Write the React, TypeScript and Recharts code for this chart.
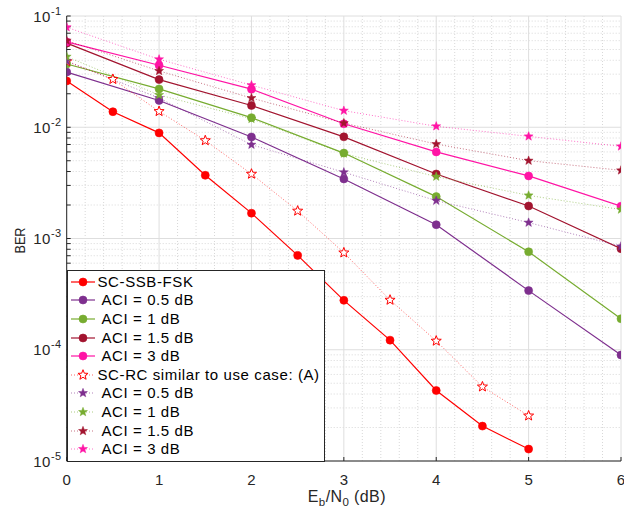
import React from 'react';
import { LineChart, Line, XAxis, YAxis, CartesianGrid, Legend } from 'recharts';

// Eb/N0 grid (dB)
const ebn0Half = [0, 0.5, 1, 1.5, 2, 2.5, 3, 3.5, 4, 4.5, 5];
const ebn0Int = [0, 1, 2, 3, 4, 5, 6];

// SC-SSB-FSK curves (circles, solid)
const berScSsbFsk = [0.0261, 0.0138, 0.0089, 0.0037, 0.00169, 0.000705, 0.000278, 0.000122, 4.3e-5, 2.06e-5, 1.28e-5];
const berSsbAci05 = [0.0313, 0.0174, 0.00817, 0.00343, 0.00133, 0.00034, 8.97e-5];
const berSsbAci1 = [0.037, 0.0221, 0.0122, 0.00586, 0.00238, 0.00076, 0.00019];
const berSsbAci15 = [0.057, 0.0268, 0.0157, 0.0082, 0.0038, 0.00196, 0.00081];
const berSsbAci3 = [0.0585, 0.0361, 0.022, 0.01075, 0.006, 0.00365, 0.00195];

// SC-RC curves (stars, dotted)
const berScRc = [0.039, 0.027, 0.0139, 0.0076, 0.0038, 0.00177, 0.000745, 0.00028, 0.00012, 4.65e-5, 2.55e-5];
const berRcAci05 = [0.0394, 0.0183, 0.00697, 0.00394, 0.00219, 0.00139, 0.00085];
const berRcAci1 = [0.0431, 0.0195, 0.0119, 0.0058, 0.0036, 0.00244, 0.00182];
const berRcAci15 = [0.0601, 0.0321, 0.0183, 0.0109, 0.00706, 0.00501, 0.0041];
const berRcAci3 = [0.0792, 0.0408, 0.0239, 0.0141, 0.0102, 0.00828, 0.00673];

const xTicks = [0, 1, 2, 3, 4, 5, 6];
const yMajor = [1e-5, 1e-4, 1e-3, 1e-2, 1e-1];
const yMinor = [-5, -4, -3, -2].flatMap((e) => [2, 3, 4, 5, 6, 7, 8, 9].map((k) => k * Math.pow(10, e)));
const xMinor = Array.from({ length: 31 }, (_, i) => +(i * 0.2).toFixed(1)).filter((v) => v % 1 !== 0);

const RED = '#ff0000';
const PURPLE = '#7e2f8e';
const GREEN = '#77ac30';
const DARKRED = '#a2142f';
const PINK = '#ff14a5';
const AXIS = '#262626';
const FONT = '"Liberation Sans", Arial, Helvetica, sans-serif';

type Marker = 'circle' | 'star' | 'openStar';
interface Series {
  name: string;
  xs: number[];
  ys: number[];
  color: string;
  marker: Marker;
  dotted: boolean;
}

const series: Series[] = [
  { name: 'SC-SSB-FSK', xs: ebn0Half, ys: berScSsbFsk, color: RED, marker: 'circle', dotted: false },
  { name: ' ACI = 0.5 dB', xs: ebn0Int, ys: berSsbAci05, color: PURPLE, marker: 'circle', dotted: false },
  { name: ' ACI = 1 dB', xs: ebn0Int, ys: berSsbAci1, color: GREEN, marker: 'circle', dotted: false },
  { name: ' ACI = 1.5 dB', xs: ebn0Int, ys: berSsbAci15, color: DARKRED, marker: 'circle', dotted: false },
  { name: ' ACI = 3 dB', xs: ebn0Int, ys: berSsbAci3, color: PINK, marker: 'circle', dotted: false },
  { name: 'SC-RC similar to use case: (A)', xs: ebn0Half, ys: berScRc, color: RED, marker: 'openStar', dotted: true },
  { name: ' ACI = 0.5 dB', xs: ebn0Int, ys: berRcAci05, color: PURPLE, marker: 'star', dotted: true },
  { name: ' ACI = 1 dB', xs: ebn0Int, ys: berRcAci1, color: GREEN, marker: 'star', dotted: true },
  { name: ' ACI = 1.5 dB', xs: ebn0Int, ys: berRcAci15, color: DARKRED, marker: 'star', dotted: true },
  { name: ' ACI = 3 dB', xs: ebn0Int, ys: berRcAci3, color: PINK, marker: 'star', dotted: true },
];

function starPoints(cx: number, cy: number, R: number) {
  const pts: string[] = [];
  for (let i = 0; i < 10; i++) {
    const a = ((-90 + i * 36) * Math.PI) / 180;
    const r = i % 2 === 0 ? R : R * 0.42;
    pts.push(`${(cx + r * Math.cos(a)).toFixed(2)},${(cy + r * Math.sin(a)).toFixed(2)}`);
  }
  return pts.join(' ');
}

function MarkerShape({ cx, cy, marker, color }: { cx: number; cy: number; marker: Marker; color: string }) {
  if (cx == null || cy == null) return null;
  if (marker === 'circle') return <circle cx={cx} cy={cy} r={4} fill={color} stroke={color} strokeWidth={0.6} />;
  if (marker === 'openStar') return <polygon points={starPoints(cx, cy, 5.3)} fill="#fff" stroke={color} strokeWidth={1} />;
  return <polygon points={starPoints(cx, cy, 4.7)} fill={color} stroke={color} strokeWidth={0.5} />;
}

const YTick = (props: any) => {
  const { x, y, payload } = props;
  const v = payload.value;
  const e = Math.round(Math.log10(v));
  if (Math.abs(Math.pow(10, e) - v) / v > 1e-6) return <g />;
  return (
    <text x={x} y={y + 5.5} textAnchor="end" fill={AXIS} fontFamily={FONT} fontSize={15} letterSpacing={0.5}>
      <tspan>10</tspan>
      <tspan dy={-7} fontSize={11}>{e}</tspan>
    </text>
  );
};

const XTick = (props: any) => {
  const { x, y, payload } = props;
  return (
    <text x={x} y={y + 16} textAnchor="middle" fill={AXIS} fontFamily={FONT} fontSize={15}>
      {payload.value}
    </text>
  );
};

const EmptyTick = () => <g />;

const XLabel = (props: any) => {
  const { viewBox } = props;
  const cx = viewBox.x + viewBox.width / 2 + 3;
  return (
    <text x={cx} y={viewBox.y + 41} textAnchor="middle" fill={AXIS} fontFamily={FONT} fontSize={16} letterSpacing={0.4}>
      <tspan>E</tspan>
      <tspan dy={4} fontSize={11.5}>b</tspan>
      <tspan dy={-4}>/N</tspan>
      <tspan dy={4} fontSize={11.5}>0</tspan>
      <tspan dy={-4}> (dB)</tspan>
    </text>
  );
};

const YLabel = (props: any) => {
  const { viewBox } = props;
  const cy = viewBox.y + viewBox.height / 2 + 2;
  return (
    <text
      x={25}
      y={cy}
      transform={`rotate(-90 25 ${cy})`}
      textAnchor="middle"
      fill={AXIS}
      fontFamily={FONT}
      fontSize={15}
      textLength={26}
      lengthAdjust="spacingAndGlyphs"
    >
      BER
    </text>
  );
};

function LegendBox() {
  return (
    <div
      style={{
        width: 258,
        height: 192,
        boxSizing: 'border-box',
        border: `1px solid ${AXIS}`,
        background: '#fff',
        paddingTop: 2,
        fontFamily: FONT,
        fontSize: 15,
        letterSpacing: 0.6,
        color: '#000',
      }}
    >
      {series.map((s, i) => (
        <div key={i} style={{ height: 18.6, display: 'flex', alignItems: 'center', whiteSpace: 'pre' }}>
          <svg width={30} height={18} style={{ flex: 'none' }}>
            <line
              x1={3}
              x2={27}
              y1={9}
              y2={9}
              stroke={s.color}
              strokeWidth={s.dotted ? 1 : 1.2}
              strokeDasharray={s.dotted ? '1 2' : undefined}
              strokeOpacity={s.dotted ? 0.6 : 1}
            />
            <MarkerShape cx={15} cy={9} marker={s.marker} color={s.color} />
          </svg>
          <span style={{ lineHeight: '18px' }}>{s.name}</span>
        </div>
      ))}
    </div>
  );
}

export default function App() {
  return (
    <div style={{ position: 'absolute', left: 0, top: 0, width: 624, height: 510, background: '#fff' }}>
      <LineChart width={624} height={510} margin={{ top: 16, right: 3, bottom: 0, left: 0 }}>
        <CartesianGrid
          horizontalValues={yMinor}
          verticalValues={xMinor}
          stroke="#d8d8d8"
          strokeDasharray="1 2"
        />
        <CartesianGrid horizontalValues={yMajor} verticalValues={xTicks} stroke="#dedede" />
        <XAxis
          dataKey="x"
          type="number"
          domain={[0, 6]}
          ticks={xTicks}
          interval={0}
          allowDataOverflow
          height={49}
          tickSize={-4}
          tickMargin={12}
          tick={<XTick />}
          stroke={AXIS}
          label={<XLabel />}
        />
        <XAxis
          xAxisId="top"
          orientation="top"
          type="number"
          domain={[0, 6]}
          ticks={xTicks}
          interval={0}
          height={0}
          tickSize={-4}
          tick={<EmptyTick />}
          stroke={AXIS}
        />
        <YAxis
          type="number"
          scale="log"
          domain={[1e-5, 1e-1]}
          allowDataOverflow
          ticks={[...yMajor, ...yMinor].sort((a, b) => a - b)}
          interval={0}
          width={66.7}
          tickSize={-4}
          tickMargin={9}
          tick={<YTick />}
          stroke={AXIS}
          label={<YLabel />}
        />
        <YAxis
          yAxisId="right"
          orientation="right"
          type="number"
          scale="log"
          domain={[1e-5, 1e-1]}
          allowDataOverflow
          ticks={[...yMajor, ...yMinor].sort((a, b) => a - b)}
          interval={0}
          width={0}
          tickSize={-4}
          tick={<EmptyTick />}
          stroke={AXIS}
        />
        <Legend
          layout="vertical"
          align="center"
          verticalAlign="middle"
          content={() => <LegendBox />}
          wrapperStyle={{ left: 66.5, top: 269.5, width: 258 }}
        />
        {series.map((s, i) => (
          <Line
            key={i}
            data={s.xs.map((x, j) => ({ x, y: s.ys[j] }))}
            dataKey="y"
            name={s.name}
            type="linear"
            stroke={s.color}
            strokeWidth={s.dotted ? 1 : 1.2}
            strokeDasharray={s.dotted ? '1 2' : undefined}
            strokeOpacity={s.dotted ? 0.6 : 1}
            isAnimationActive={false}
            activeDot={false}
            dot={(p: any) => (
              <MarkerShape key={`d${i}-${p.index}`} cx={p.cx} cy={p.cy} marker={s.marker} color={s.color} />
            )}
          />
        ))}
      </LineChart>
    </div>
  );
}
